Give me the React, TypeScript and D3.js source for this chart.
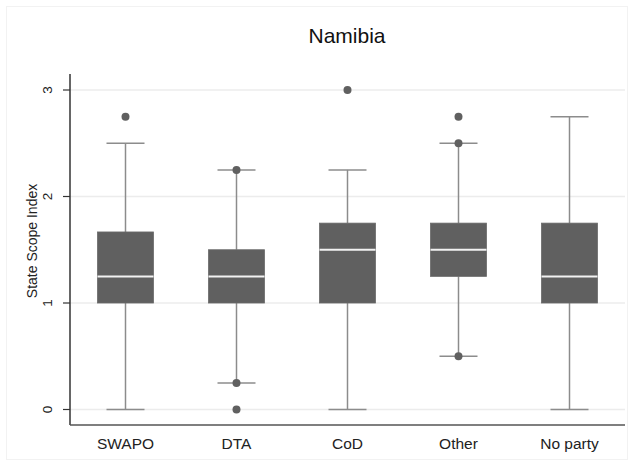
import React from "react";
import * as d3 from "d3";

// Party groups and the five-number summaries of the State Scope Index
const parties = ["SWAPO", "DTA", "CoD", "Other", "No party"];
const lowerWhisker = [0, 0.25, 0, 0.5, 0];
const q1 = [1, 1, 1, 1.25, 1];
const median = [1.25, 1.25, 1.5, 1.5, 1.25];
const q3 = [1.667, 1.5, 1.75, 1.75, 1.75];
const upperWhisker = [2.5, 2.25, 2.25, 2.5, 2.75];
const outliers: number[][] = [[2.75], [2.25, 0.25, 0], [3], [2.75, 2.5, 0.5], []];
const yTicks = [0, 1, 2, 3];

const W = 634;
const H = 466;
const plotLeft = 70;
const plotRight = 625;
const axisY = 425;

const FONT = "'Liberation Sans', Arial, Helvetica, sans-serif";
const BOX = "#606060";
const WHISKER = "#8c8c8c";

export default function App() {
  const x = d3.scaleBand<string>().domain(parties).range([plotLeft, plotRight]);
  const y = d3.scaleLinear().domain([0, 3]).range([409.5, 90]);
  const bw = x.bandwidth();
  const boxW = 56;
  const capW = 38;

  return (
    <svg
      width={W}
      height={H}
      style={{ position: "absolute", left: 0, top: 0, background: "#fff" }}
      fontFamily={FONT}
    >
      <rect x={6.5} y={6.5} width={621} height={453} fill="#fff" stroke="#f2f2f2" />
      <text x={347} y={43} textAnchor="middle" fontSize={21} fill="#111">
        Namibia
      </text>

      {/* gridlines */}
      {yTicks.map((t) => (
        <line key={"g" + t} x1={plotLeft} x2={plotRight} y1={y(t)} y2={y(t)} stroke="#ececec" strokeWidth={1.5} />
      ))}

      {parties.map((p, i) => {
        const cx = (x(p) as number) + bw / 2;
        return (
          <g key={p}>
            <line x1={cx} x2={cx} y1={y(q3[i])} y2={y(upperWhisker[i])} stroke={WHISKER} strokeWidth={1.5} />
            <line x1={cx} x2={cx} y1={y(q1[i])} y2={y(lowerWhisker[i])} stroke={WHISKER} strokeWidth={1.5} />
            <line x1={cx - capW / 2} x2={cx + capW / 2} y1={y(upperWhisker[i])} y2={y(upperWhisker[i])} stroke={WHISKER} strokeWidth={1.5} />
            <line x1={cx - capW / 2} x2={cx + capW / 2} y1={y(lowerWhisker[i])} y2={y(lowerWhisker[i])} stroke={WHISKER} strokeWidth={1.5} />
            <rect
              x={cx - boxW / 2}
              y={y(q3[i])}
              width={boxW}
              height={y(q1[i]) - y(q3[i])}
              fill={BOX}
              stroke="#6a6a6a"
              strokeWidth={0.8}
            />
            <line x1={cx - boxW / 2} x2={cx + boxW / 2} y1={y(median[i])} y2={y(median[i])} stroke="#f2f2f2" strokeWidth={2} />
            {outliers[i].map((v, j) => (
              <circle key={j} cx={cx} cy={y(v)} r={4} fill={BOX} />
            ))}
          </g>
        );
      })}

      {/* axes */}
      <line x1={plotLeft} x2={plotLeft} y1={74} y2={axisY} stroke="#333" strokeWidth={1.5} />
      <line x1={plotLeft} x2={plotRight} y1={axisY} y2={axisY} stroke="#555" strokeWidth={1.5} />
      {yTicks.map((t) => (
        <g key={"t" + t}>
          <line x1={plotLeft - 7} x2={plotLeft} y1={y(t)} y2={y(t)} stroke="#333" strokeWidth={1.2} />
          <text
            transform={`translate(52,${y(t)}) rotate(-90)`}
            textAnchor="middle"
            fontSize={13.5}
            fill="#222"
          >
            {t}
          </text>
        </g>
      ))}
      <text transform="translate(37,241) rotate(-90)" textAnchor="middle" fontSize={14} fill="#222">
        State Scope Index
      </text>
      {parties.map((p) => (
        <text key={"x" + p} x={(x(p) as number) + bw / 2} y={449} textAnchor="middle" fontSize={15.5} fill="#222">
          {p}
        </text>
      ))}
    </svg>
  );
}
